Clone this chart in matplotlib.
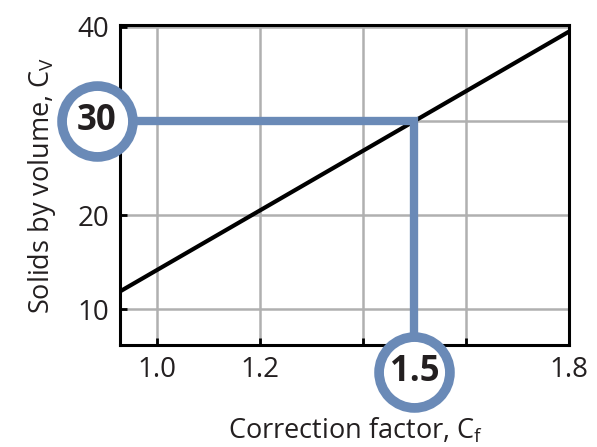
import matplotlib.pyplot as plt

plt.rcParams['font.family'] = ['Open Sans', 'DejaVu Sans']
plt.rcParams['mathtext.default'] = 'regular'

# data
cf_line = [0.928, 1.8]
cv_line = [11.9, 39.5]
x_ticks = [1.0, 1.2, 1.4, 1.6, 1.8]
x_labels = ['1.0', '1.2', '', '', '1.8']
y_ticks = [10, 20, 30, 40]
y_labels = ['10', '20', '', '40']
pick_cf = 1.5
pick_cv = 30

blue = '#6a8ab7'
grey = '#b0b0b0'

fig = plt.figure(figsize=(5.97, 4.47), dpi=100)
ax = fig.add_axes([0.201, 0.228, 0.752, 0.716])

ax.plot(cf_line, cv_line, color='black', lw=3, solid_capstyle='butt', zorder=3)

ax.set_xlim(0.928, 1.8)
ax.set_ylim(6.2, 40.2)
ax.set_xticks(x_ticks)
ax.set_xticklabels(x_labels)
ax.set_yticks(y_ticks)
ax.set_yticklabels(y_labels)
ax.grid(True, color=grey, lw=1.8)
ax.set_axisbelow(True)
ax.tick_params(direction='in', length=5, width=2, labelsize=20, colors='black',
               labelcolor='#231f20', pad=8)
for s in ax.spines.values():
    s.set_linewidth(2.2)

ax.set_xlabel('Correction factor, $C_f$', fontsize=19.5, color='#231f20')
ax.xaxis.set_label_coords(0.525, -0.222, transform=ax.transAxes)
ax.xaxis.label.set_va('top')
ax.set_ylabel('Solids by volume, $C_V$', fontsize=19.5, color='#231f20', labelpad=14)

# pointer path from 30 across to the line and down to 1.5
circ_x = 0.883
circ_y = 3.36
ax.plot([circ_x, pick_cf, pick_cf], [pick_cv, pick_cv, circ_y], color=blue, lw=6,
        solid_joinstyle='miter', clip_on=False, zorder=4)
ax.plot([circ_x, pick_cf], [pick_cv, circ_y], 'o', ms=51, mfc='white', mec=blue,
        mew=7, clip_on=False, zorder=5, ls='none')
ax.text(circ_x, pick_cv, '30', fontsize=25, fontweight='bold', color='#231f20',
        ha='center', va='center', zorder=6)
ax.text(pick_cf, circ_y, '1.5', fontsize=25, fontweight='bold', color='#231f20',
        ha='center', va='center', zorder=6)

fig.savefig('out.png', dpi=100)
